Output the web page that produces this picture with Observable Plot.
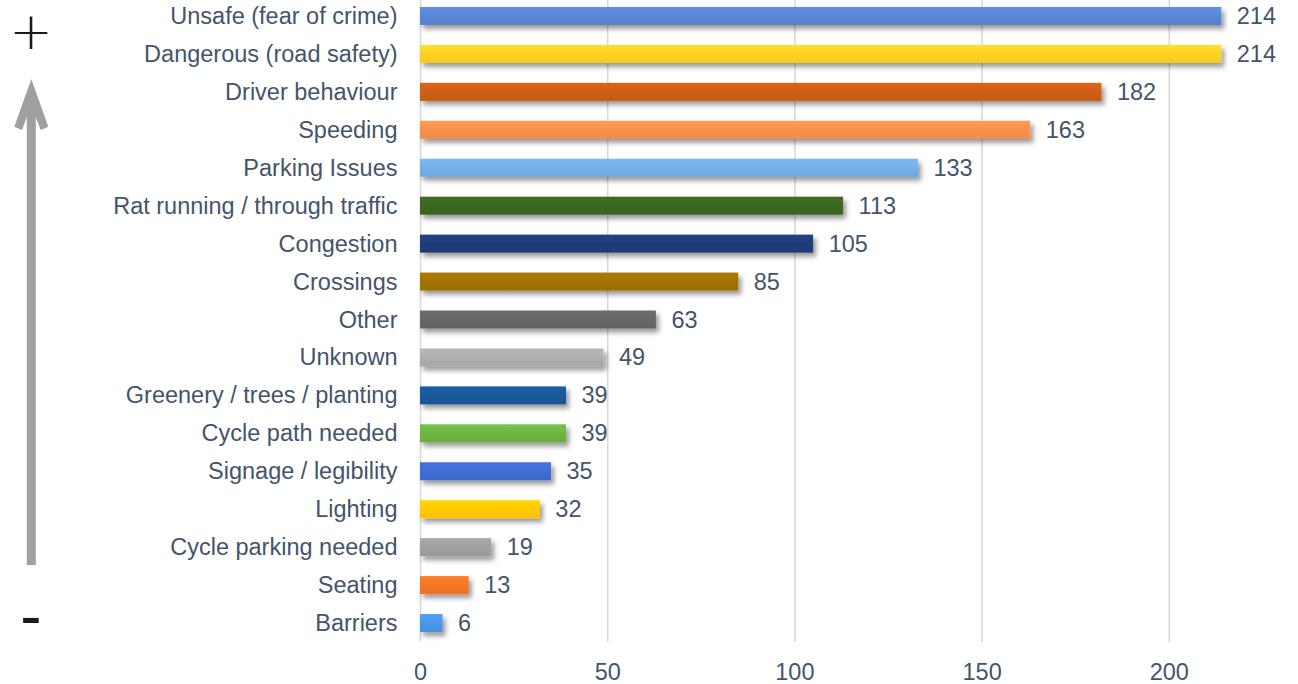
<!DOCTYPE html>
<html>
<head>
<meta charset="utf-8">
<script src="https://cdn.jsdelivr.net/npm/d3@7"></script>
<script src="https://cdn.jsdelivr.net/npm/@observablehq/plot@0.6"></script>
<style>
  html, body { margin: 0; padding: 0; background: #fff; }
  #wrap { position: relative; width: 1298px; height: 684px; font-family: "Liberation Sans", Arial, sans-serif; }
  #deco { position: absolute; left: 0; top: 0; }
</style>
</head>
<body>
<div id="wrap"></div>
<script>
const categories = [
  "Unsafe (fear of crime)", "Dangerous (road safety)", "Driver behaviour", "Speeding",
  "Parking Issues", "Rat running / through traffic", "Congestion", "Crossings", "Other",
  "Unknown", "Greenery / trees / planting", "Cycle path needed", "Signage / legibility",
  "Lighting", "Cycle parking needed", "Seating", "Barriers"
];
const values = [214, 214, 182, 163, 133, 113, 105, 85, 63, 49, 39, 39, 35, 32, 19, 13, 6];
const colors = [
  "#5680cc", "#f8c822", "#c55a11", "#f08b49", "#6ea7de", "#3a6220", "#1e3a75", "#9a6e00",
  "#626262", "#a5a5a5", "#1c5493", "#69ad3f", "#3c68c9", "#ffc000", "#989898", "#ec7124", "#4790db"
];
const xTicks = [0, 50, 100, 150, 200];

const data = categories.map((c, i) => ({ i, category: c, value: values[i], color: colors[i] }));
const textColor = "#44546a";

const chart = Plot.plot({
  width: 1298,
  height: 684,
  marginLeft: 420,
  marginRight: 0,
  marginTop: -3,
  marginBottom: 42,
  style: { fontFamily: "Liberation Sans, Arial, sans-serif", fontSize: "23.5px", color: textColor, background: "#fff" },
  x: { domain: [0, 234.5], ticks: xTicks, tickSize: 0, tickPadding: 21, label: null },
  y: { domain: categories, paddingInner: 0.525, paddingOuter: 0.2625, round: false, tickSize: 0, tickPadding: 23, label: null },
  color: { type: "identity" },
  marks: [
    Plot.ruleX(xTicks, { stroke: "#d9d9d9", strokeWidth: 1.6 }),
    Plot.barX(data, { x: "value", y: "category", fill: d => `url(#grad${d.i})` }),
    Plot.text(data, { x: "value", y: "category", text: d => String(d.value), dx: 15, textAnchor: "start", fill: textColor, fontSize: 23.5 })
  ]
});

// gradients and shadow
const svg = d3.select(chart);
const defs = svg.insert("defs", ":first-child");
data.forEach(d => {
  const g = defs.append("linearGradient").attr("id", `grad${d.i}`).attr("x1", 0).attr("y1", 0).attr("x2", 0).attr("y2", 1);
  const top = d3.color(d.color).brighter(0.3).formatHex();
  g.append("stop").attr("offset", "0%").attr("stop-color", top);
  g.append("stop").attr("offset", "100%").attr("stop-color", d.color);
});
const f = defs.append("filter").attr("id", "shadow").attr("x", "-5%").attr("y", "-50%").attr("width", "115%").attr("height", "220%");
f.append("feDropShadow").attr("dx", 3).attr("dy", 4).attr("stdDeviation", 2.5).attr("flood-color", "#000").attr("flood-opacity", 0.4);
svg.selectAll("g[aria-label='bar']").attr("filter", "url(#shadow)");

const wrap = document.getElementById("wrap");
wrap.appendChild(chart);

// decorative importance arrow
const deco = d3.select(wrap).append("svg").attr("id", "deco").attr("width", 70).attr("height", 684);
deco.append("rect").attr("x", 26.8).attr("y", 110).attr("width", 9).attr("height", 455).attr("fill", "#a0a0a2");
deco.append("path")
  .attr("d", "M31.3,79 L48.3,126.7 L40.7,130 L35.8,117 L26.8,117 L22,130 L14.3,126.7 Z")
  .attr("fill", "#a0a0a2");
deco.append("text").attr("x", 31).attr("y", 49).attr("text-anchor", "middle")
  .attr("font-family", "DejaVu Sans, Liberation Sans, sans-serif").attr("font-weight", 200)
  .attr("font-size", 52).attr("fill", "#1a1a1a").text("+");
deco.append("text").attr("x", 31).attr("y", 638).attr("text-anchor", "middle")
  .attr("font-family", "Liberation Sans, Arial, sans-serif")
  .attr("font-size", 64).attr("fill", "#1a1a1a").text("-");
</script>
</body>
</html>
